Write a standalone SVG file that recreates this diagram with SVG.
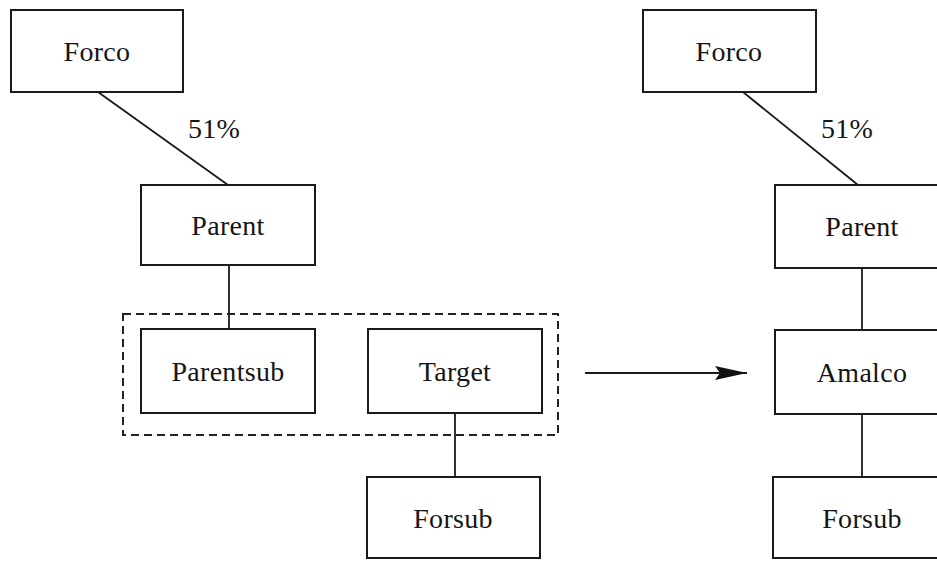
<svg xmlns="http://www.w3.org/2000/svg" width="937" height="561" viewBox="0 0 937 561">
  <defs>
    <style>
      .box { fill: #fff; stroke: #1a1a1a; stroke-width: 2; }
      .lbl { font-family: "Liberation Serif", "Times New Roman", serif; font-size: 28px; fill: #151515; text-anchor: middle; letter-spacing: 0.3px; }
      .link { stroke: #1a1a1a; stroke-width: 1.8; fill: none; }
      .group { fill: none; stroke: #222; stroke-width: 2; stroke-dasharray: 8 5; }
    </style>
    <marker id="head" viewBox="0 0 32 14" refX="32" refY="7" markerWidth="32" markerHeight="14" markerUnits="userSpaceOnUse" orient="auto">
      <path d="M0,0 L32,7 L0,14 L5,7 Z" fill="#111"/>
    </marker>
  </defs>
  <rect width="937" height="561" fill="#fff"/>

  <!-- connectors -->
  <g id="connectors">
    <line class="link" x1="98" y1="92" x2="228" y2="185"/>
    <line class="link" x1="229" y1="265" x2="229" y2="329"/>
    <line class="link" x1="455" y1="413" x2="455" y2="477"/>
    <line class="link" x1="743" y1="92" x2="858" y2="185"/>
    <line class="link" x1="862" y1="268" x2="862" y2="330"/>
    <line class="link" x1="862" y1="414" x2="862" y2="477"/>
    <line class="link" x1="585" y1="373" x2="747" y2="373" marker-end="url(#head)"/>
  </g>

  <!-- ownership labels -->
  <text class="lbl" x="214" y="138">51%</text>
  <text class="lbl" x="847" y="138">51%</text>

  <!-- merged pair outline -->
  <rect id="merger-group" class="group" x="123" y="314" width="435" height="121"/>

  <!-- before -->
  <g id="forco-left">
    <rect class="box" x="11" y="10" width="172" height="82"/>
    <text class="lbl" x="97" y="61">Forco</text>
  </g>
  <g id="parent-left">
    <rect class="box" x="141" y="185" width="174" height="80"/>
    <text class="lbl" x="228" y="235">Parent</text>
  </g>
  <g id="parentsub">
    <rect class="box" x="141" y="329" width="174" height="84"/>
    <text class="lbl" x="228" y="381">Parentsub</text>
  </g>
  <g id="target">
    <rect class="box" x="368" y="329" width="174" height="84"/>
    <text class="lbl" x="455" y="381">Target</text>
  </g>
  <g id="forsub-left">
    <rect class="box" x="367" y="477" width="173" height="81"/>
    <text class="lbl" x="453" y="528">Forsub</text>
  </g>

  <!-- after -->
  <g id="forco-right">
    <rect class="box" x="643" y="10" width="173" height="82"/>
    <text class="lbl" x="729" y="61">Forco</text>
  </g>
  <g id="parent-right">
    <rect class="box" x="775" y="185" width="174" height="83"/>
    <text class="lbl" x="862" y="236">Parent</text>
  </g>
  <g id="amalco">
    <rect class="box" x="775" y="330" width="174" height="84"/>
    <text class="lbl" x="862" y="382">Amalco</text>
  </g>
  <g id="forsub-right">
    <rect class="box" x="773" y="477" width="176" height="81"/>
    <text class="lbl" x="862" y="528">Forsub</text>
  </g>
</svg>
